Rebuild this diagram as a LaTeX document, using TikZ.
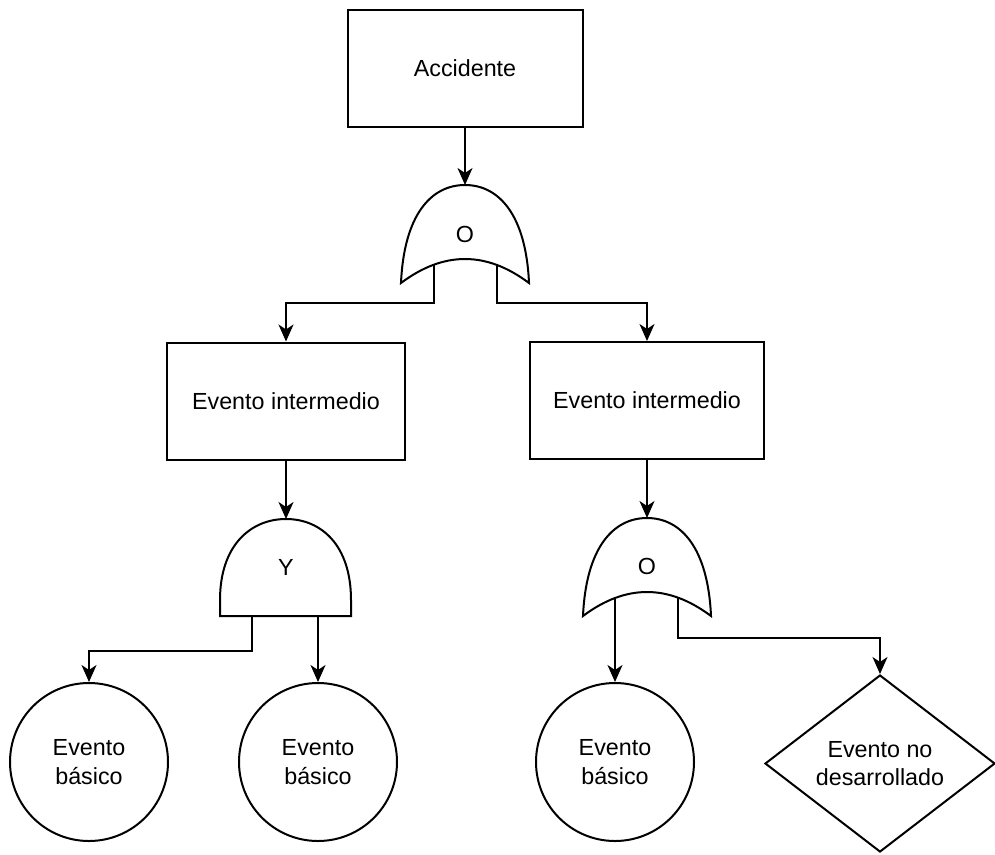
\documentclass[tikz,border=0pt]{standalone}
\usepackage{fontspec}
\setmainfont{Liberation Sans}
\usetikzlibrary{shapes.geometric,arrows.meta}
\begin{document}
\begin{tikzpicture}[x=1pt,y=-1pt,
  every node/.style={font=\fontsize{23.3}{28.8}\selectfont},
  ln/.style={line width=2pt},
  arr/.style={line width=2pt,-{Stealth[length=17pt,width=15pt,inset=5pt]}},
  box/.style={draw,line width=2pt,rectangle,minimum width=#1,minimum height=117pt,inner sep=0pt},
  evb/.style={draw,line width=2pt,circle,minimum size=158pt,inner sep=0pt,align=center},
  evnd/.style={draw,line width=2pt,diamond,minimum width=230pt,minimum height=177pt,inner sep=0pt,align=center},
  glabel/.style={inner sep=0pt}
]
\useasboundingbox (0,0) rectangle (995,854);

% boxes
\node[box=235pt] (acc) at (465,68.5) {Accidente};
\node[box=238pt] (ei1) at (286,401) {Evento intermedio};
\node[box=234pt] (ei2) at (647,400.5) {Evento intermedio};

% basic events
\node[evb] (c1) at (89,762) {Evento\\básico};
\node[evb] (c2) at (318,762) {Evento\\básico};
\node[evb] (c3) at (615,762) {Evento\\básico};
\node[evnd] (d1) at (880,763.5) {Evento no\\desarrollado};

% OR gate 1
\begin{scope}[shift={(465,185)}]
  \draw[ln] (-64,98) .. controls (-61,30) and (-34,0) .. (0,0)
            .. controls (34,0) and (61,30) .. (64,98)
            .. controls (21.3,66) and (-21.3,66) .. (-64,98) -- cycle;
  \coordinate (g1in) at (0,0);
  \coordinate (g1l) at (-31,80);
  \coordinate (g1r) at (32,80);
  \node[glabel] (g1) at (0,49) {O};
\end{scope}

% AND gate
\begin{scope}[shift={(286,519)}]
  \draw[ln] (-66,97) -- (-66,81) .. controls (-66,26) and (-35,0) .. (0,0)
            .. controls (35,0) and (65,26) .. (65,81) -- (65,97) -- cycle;
  \coordinate (g2in) at (0,0);
  \coordinate (g2l) at (-34,97);
  \coordinate (g2r) at (32,97);
  \node[glabel] (g2) at (0,48) {Y};
\end{scope}

% OR gate 2
\begin{scope}[shift={(647,518)}]
  \draw[ln] (-64,98) .. controls (-61,30) and (-34,0) .. (0,0)
            .. controls (34,0) and (61,30) .. (64,98)
            .. controls (21.3,66) and (-21.3,66) .. (-64,98) -- cycle;
  \coordinate (g3in) at (0,0);
  \coordinate (g3l) at (-32,80);
  \coordinate (g3r) at (31,80);
  \node[glabel] (g3) at (0,48) {O};
\end{scope}

% connectors
\draw[arr] (acc.south) -- (g1in);
\draw[arr] (g1l) -- ++(0,38) -| (ei1.north);
\draw[arr] (g1r) -- ++(0,38) -| (ei2.north);
\draw[arr] (ei1.south) -- (g2in);
\draw[arr] (g2l) -- ++(0,35) -| (c1.north);
\draw[arr] (g2r) -- (c2.north);
\draw[arr] (ei2.south) -- (g3in);
\draw[arr] (g3l) -- (c3.north);
\draw[arr] (g3r) -- ++(0,40) -| (d1.north);
\end{tikzpicture}
\end{document}
